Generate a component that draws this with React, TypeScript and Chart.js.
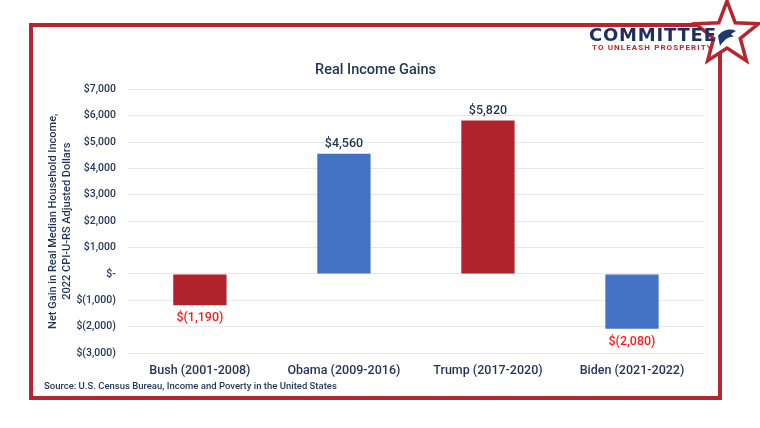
import React, { useEffect, useRef } from "react";
import { Chart, registerables } from "chart.js";

Chart.register(...registerables);

const categories = ["Bush (2001-2008)", "Obama (2009-2016)", "Trump (2017-2020)", "Biden (2021-2022)"];
const gains = [-1190, 4560, 5820, -2080];
const barColors = ["#b0232a", "#4472c4", "#b0232a", "#4472c4"];
const yMin = -3000;
const yMax = 7000;
const yStep = 1000;
const chartTitle = "Real Income Gains";
const yAxisTitle = ["Net Gain in Real Median Household Income,", "2022 CPI-U-RS Adjusted Dollars"];
const sourceNote = "Source: U.S. Census Bureau, Income and Poverty in the United States";
const logoMain = "COMMITTEE";
const logoSub = "TO UNLEASH PROSPERITY";

const NAVY = "#1f3456";
const FRAME_RED = "#b5262e";
const FONT = "Roboto, 'DejaVu Sans', sans-serif";

function withCommas(n: number): string {
  const s = String(Math.round(n));
  return s.replace(/\B(?=(\d{3})+(?!\d))/g, ",");
}

function fmtMoney(v: number): string {
  if (v === 0) return "$-";
  const s = withCommas(Math.abs(v));
  return v < 0 ? `$(${s})` : `$${s}`;
}

const valueLabels = {
  id: "valueLabels",
  afterDatasetsDraw(chart: any) {
    const ctx = chart.ctx;
    const meta = chart.getDatasetMeta(0);
    ctx.save();
    ctx.font = `500 12.5px ${FONT}`;
    ctx.textAlign = "center";
    ctx.textBaseline = "middle";
    meta.data.forEach((bar: any, i: number) => {
      const v = gains[i];
      const p = bar.getProps(["x", "y"], true);
      if (v >= 0) {
        ctx.fillStyle = NAVY;
        ctx.fillText(fmtMoney(v), p.x, p.y - 10);
      } else {
        ctx.fillStyle = "#ff1a1a";
        ctx.fillText(fmtMoney(v), p.x, p.y + 13);
      }
    });
    ctx.restore();
  },
};

export default function App() {
  const canvasRef = useRef<HTMLCanvasElement | null>(null);

  useEffect(() => {
    if (!canvasRef.current) return;
    const chart = new Chart(canvasRef.current, {
      type: "bar",
      data: {
        labels: categories,
        datasets: [
          {
            data: gains,
            backgroundColor: barColors,
            borderWidth: 0,
            barPercentage: 0.37,
            categoryPercentage: 1,
          },
        ],
      },
      options: {
        animation: false,
        responsive: false,
        maintainAspectRatio: false,
        devicePixelRatio: 1,
        layout: { padding: { left: 47, right: 56, top: 62, bottom: 48 } },
        plugins: {
          legend: { display: false },
          tooltip: { enabled: false },
          title: {
            display: true,
            text: chartTitle,
            color: NAVY,
            font: { family: FONT, size: 14.5, weight: "500" },
            padding: { top: 0, bottom: 10 },
          },
        },
        scales: {
          x: {
            grid: { display: false },
            border: { display: false },
            ticks: {
              color: NAVY,
              font: { family: FONT, size: 12.5, weight: "500" },
              padding: 2,
            },
          },
          y: {
            min: yMin,
            max: yMax,
            afterFit: (scale: any) => {
              scale.width -= 9;
            },
            ticks: {
              stepSize: yStep,
              color: NAVY,
              font: { family: FONT, size: 10.5, weight: "500" },
              padding: 12,
              callback: (v: any) => fmtMoney(Number(v)),
            },
            grid: { color: "#e8e8e8", drawTicks: false, lineWidth: 1 },
            border: { display: false },
            title: {
              display: true,
              text: yAxisTitle,
              color: NAVY,
              font: { family: FONT, size: 11, weight: "500" },
              padding: { top: 0, bottom: 0 },
            },
          },
        },
      },
      plugins: [valueLabels],
    });
    return () => chart.destroy();
  }, []);

  // star geometry
  const cx = 727, cy = 34, R = 33, r = 14;
  const pts: string[] = [];
  for (let k = 0; k < 10; k++) {
    const ang = -Math.PI / 2 + (k * Math.PI) / 5;
    const rad = k % 2 === 0 ? R : r;
    pts.push(`${(cx + rad * Math.cos(ang)).toFixed(1)},${(cy + rad * Math.sin(ang)).toFixed(1)}`);
  }

  return (
    <div style={{ position: "fixed", left: 0, top: 0, width: 760, height: 428, background: "#fff", overflow: "hidden" }}>
      <svg width={760} height={428} style={{ position: "absolute", left: 0, top: 0 }}>
        <rect x={31} y={25} width={689} height={373} fill="none" stroke={FRAME_RED} strokeWidth={4} />
        <polygon points={pts.join(" ")} fill="#fff" stroke={FRAME_RED} strokeWidth={3.5} strokeLinejoin="miter" />
        <path d="M718,36 C722,30 730,28 736,31 L731,34 L734,37 C729,36 724,40 720,46 Z" fill="#1c3a6e" />
      </svg>
      <canvas ref={canvasRef} width={760} height={428} style={{ position: "absolute", left: 0, top: 0, width: 760, height: 428 }} />
      <div
        style={{
          position: "absolute",
          left: 589,
          top: 26,
          fontFamily: "'DejaVu Sans', sans-serif",
          fontWeight: 700,
          fontSize: 18,
          lineHeight: "18px",
          letterSpacing: "0.8px",
          color: "#1c2f5e",
          whiteSpace: "nowrap",
        }}
      >
        {logoMain}
      </div>
      <div
        style={{
          position: "absolute",
          left: 592,
          top: 43,
          fontFamily: FONT,
          fontWeight: 700,
          fontSize: 8,
          lineHeight: "9px",
          letterSpacing: "1.1px",
          color: "#c0272d",
          whiteSpace: "nowrap",
        }}
      >
        {logoSub}
      </div>
      <div
        style={{
          position: "absolute",
          left: 44,
          top: 380,
          fontFamily: FONT,
          fontWeight: 500,
          fontSize: 9.5,
          lineHeight: "12px",
          color: NAVY,
          whiteSpace: "nowrap",
        }}
      >
        {sourceNote}
      </div>
    </div>
  );
}
